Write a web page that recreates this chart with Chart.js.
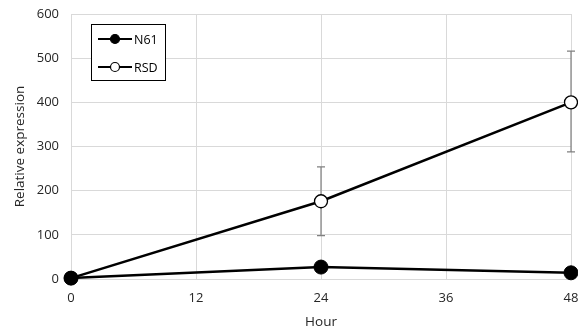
<!DOCTYPE html>
<html lang="en">
<head>
    <meta charset="UTF-8">
    <title>Relative expression</title>
    <script src="https://cdn.jsdelivr.net/npm/chart.js"></script>
    <style>
        html, body { margin: 0; padding: 0; background: #fff; overflow: hidden; }
        #wrap { width: 578px; height: 334px; }
        canvas { display: block; }
    </style>
</head>
<body>
    <div id="wrap"><canvas id="myChart" width="578" height="334"></canvas></div>
    <script>
        // values
        const hours = [0, 24, 48];
        const n61 = [2, 27, 14];
        const rsd = [2, 176, 400];
        const rsdLow = [null, 98, 288];
        const rsdHigh = [null, 254, 516];
        const yTicks = [0, 100, 200, 300, 400, 500, 600];
        const xTicks = [0, 12, 24, 36, 48];

        const fontFam = "'Open Sans', 'Liberation Sans', sans-serif";

        const errorBars = {
            id: 'errorBars',
            beforeDatasetsDraw(chart) {
                const ctx = chart.ctx;
                const x = chart.scales.x, y = chart.scales.y;
                ctx.save();
                ctx.strokeStyle = '#808080';
                ctx.lineWidth = 1.2;
                hours.forEach((h, i) => {
                    if (rsdLow[i] == null) return;
                    const px = x.getPixelForValue(h);
                    const y1 = y.getPixelForValue(rsdLow[i]);
                    const y2 = y.getPixelForValue(rsdHigh[i]);
                    ctx.beginPath();
                    ctx.moveTo(px, y1); ctx.lineTo(px, y2);
                    ctx.moveTo(px - 4, y1); ctx.lineTo(px + 4, y1);
                    ctx.moveTo(px - 4, y2); ctx.lineTo(px + 4, y2);
                    ctx.stroke();
                });
                ctx.restore();
            }
        };

        // legend box sitting inside the plot, top left
        const boxLegend = {
            id: 'boxLegend',
            afterDraw(chart) {
                const ctx = chart.ctx;
                const left = 91, top = 24, w = 74, h = 56;
                ctx.save();
                ctx.fillStyle = '#fff';
                ctx.fillRect(left, top, w, h);
                ctx.strokeStyle = '#000';
                ctx.lineWidth = 1;
                ctx.strokeRect(left + 0.5, top + 0.5, w, h);
                const items = [
                    { label: 'N61', fill: '#000' },
                    { label: 'RSD', fill: '#fff' }
                ];
                ctx.font = '12.5px ' + fontFam;
                ctx.textBaseline = 'middle';
                items.forEach((it, i) => {
                    const cy = top + 15 + i * 28;
                    ctx.strokeStyle = '#000';
                    ctx.lineWidth = 2.2;
                    ctx.beginPath();
                    ctx.moveTo(left + 7, cy); ctx.lineTo(left + 41, cy);
                    ctx.stroke();
                    ctx.beginPath();
                    ctx.arc(left + 24, cy, 4.5, 0, Math.PI * 2);
                    ctx.fillStyle = it.fill;
                    ctx.fill();
                    ctx.lineWidth = 1.2;
                    ctx.stroke();
                    ctx.fillStyle = '#000';
                    ctx.fillText(it.label, left + 43, cy + 1);
                });
                ctx.restore();
            }
        };

        new Chart(document.getElementById('myChart'), {
            type: 'line',
            data: {
                datasets: [{
                    label: 'N61',
                    data: hours.map((h, i) => ({ x: h, y: n61[i] })),
                    borderColor: '#000',
                    backgroundColor: '#000',
                    borderWidth: 2.5,
                    pointRadius: 7,
                    pointBackgroundColor: '#000',
                    pointBorderColor: '#000',
                    pointBorderWidth: 1,
                    clip: false
                }, {
                    label: 'RSD',
                    data: hours.map((h, i) => ({ x: h, y: rsd[i] })),
                    borderColor: '#000',
                    backgroundColor: '#fff',
                    borderWidth: 2.5,
                    pointRadius: 6.5,
                    pointBackgroundColor: '#fff',
                    pointBorderColor: '#000',
                    pointBorderWidth: 1.3,
                    clip: false
                }]
            },
            options: {
                responsive: false,
                animation: false,
                layout: { autoPadding: false, padding: { top: 14, right: 7, left: 0, bottom: 0 } },
                plugins: {
                    legend: { display: false },
                    tooltip: { enabled: false }
                },
                scales: {
                    x: {
                        type: 'linear',
                        min: 0, max: 48,
                        afterBuildTicks(s) { s.ticks = xTicks.map(v => ({ value: v })); },
                        grid: { color: '#d9d9d9', drawTicks: false },
                        border: { display: false },
                        ticks: { color: '#262626', padding: 11, font: { family: fontFam, size: 13 } },
                        title: { display: true, text: 'Hour', color: '#262626', padding: { top: 4, bottom: 4 }, font: { family: fontFam, size: 13.5 } },
                        afterFit(s) { s.height = 55; s.paddingLeft = 0; s.paddingRight = 0; }
                    },
                    y: {
                        min: 0, max: 600,
                        afterBuildTicks(s) { s.ticks = yTicks.map(v => ({ value: v })); },
                        grid: { color: '#d9d9d9', drawTicks: false },
                        border: { display: false },
                        ticks: { color: '#262626', padding: 12, font: { family: fontFam, size: 13 } },
                        title: { display: true, text: 'Relative expression', color: '#262626', padding: { top: 12, bottom: 4 }, font: { family: fontFam, size: 13.5 } },
                        afterFit(s) { s.width = 71; s.paddingTop = 0; s.paddingBottom = 0; }
                    }
                }
            },
            plugins: [errorBars, boxLegend]
        });
    </script>
</body>
</html>
